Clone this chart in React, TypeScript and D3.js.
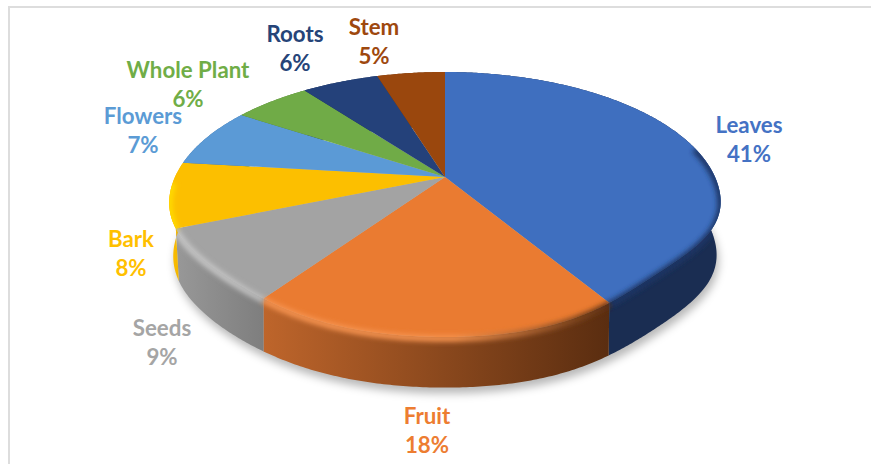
import { line, pie, range, curveLinear } from "d3";

const categories = ["Leaves", "Fruit", "Seeds", "Bark", "Flowers", "Whole Plant", "Roots", "Stem"];
const shares = [41.25, 18.49, 9.1, 8, 7.3, 5.5, 5.5, 4.86];
const topColors = ["#3F6FBF", "#EA7B31", "#A3A3A3", "#FCBF00", "#5B9AD6", "#70AB47", "#24417A", "#9A470D"];
const labelColors = ["#4472C4", "#ED7D31", "#A5A5A5", "#FFC000", "#5B9BD5", "#70AD47", "#264478", "#9E480E"];
const wallStops = [
    ["#1A2D52", "#1A2D52"],
    ["#BE652B", "#5A2D10"],
    ["#989898", "#7E7E7E"],
    ["#FFC000", "#E8AE00"],
    ["#3F6FA0", "#3F6FA0"],
    ["#4F7A32", "#4F7A32"],
    ["#1A2F58", "#1A2F58"],
    ["#6E330A", "#6E330A"],
];
const bevelStops = [
    ["#1F3665", "#1F3665"],
    ["#F5934F", "#5F3112"],
    ["#C4C4C4", "#BDBDBD"],
    ["#FFDC00", "#FFD400"],
    ["#5B9AD6", "#5B9AD6"],
    ["#70AB47", "#70AB47"],
    ["#24417A", "#24417A"],
    ["#9A470D", "#9A470D"],
];
// label centres, name line then percent line
const labelX = [749, 427, 162, 131, 143, 188, 295, 374];
const labelY = [125, 416, 328, 239, 116, 70, 34, 27];

const width = 871;
const height = 464;
const apexX = 445;
const apexY = 177;
const scaleU = 270;
const scaleV = 126.8;
const tilt = 0.2075; // perspective of the disc
const depth = 53;
const shrink = 0.015;

// the front diagonals of the real rim sit a bit inside a true ellipse, more so on the right
function pull(angle: number, level: number) {
    const t = angle % (Math.PI * 2);
    if (t < Math.PI / 2 || t > Math.PI * 1.5) return 1;
    const amount = t < Math.PI ? 0.055 - 0.015 * level : 0.03 - 0.015 * level;
    return 1 - amount * Math.sin(2 * (t - Math.PI)) ** 4;
}

// disc point to screen: angle clockwise from the top, radius 0..1, level 0 top rim, 1 bottom rim
function project(angle: number, radius = 1, level = 0): [number, number] {
    const r = radius * pull(angle, level);
    const u = r * Math.sin(angle);
    const v = r * Math.cos(angle);
    const w = 1 + tilt * v;
    const s = 1 - shrink * level;
    return [apexX + (scaleU * s * u) / w, apexY - (scaleV * s * v) / w + depth * level];
}

const path = line().curve(curveLinear);

function arcPoints(a0: number, a1: number, radius = 1, level = 0) {
    const n = Math.max(2, Math.ceil((a1 - a0) / 0.01));
    return range(n + 1).map((i) => project(a0 + ((a1 - a0) * i) / n, radius, level));
}

const slices = pie<number>().sort(null)(shares);
const bevelFrom = (76 * Math.PI) / 180;
const bevelTo = (268 * Math.PI) / 180;
const discOutline = path(arcPoints(0, Math.PI * 2)) + "Z";
const bodyOutline =
    path([...arcPoints(Math.PI * 0.4, Math.PI * 1.6), ...arcPoints(Math.PI * 0.4, Math.PI * 1.6, 1, 1).reverse()]) + "Z";
const shadowOutline = path(arcPoints(0, Math.PI * 2, 1, 1)) + "Z";

function xExtent(a0: number, a1: number) {
    const xs = [...arcPoints(a0, a1), ...arcPoints(a0, a1, 1, 1)].map((p) => p[0]);
    return [Math.min(...xs), Math.max(...xs)];
}

export default function App() {
    const font = "Lato, sans-serif";
    return (
        <svg
            width={width}
            height={height}
            viewBox={`0 0 ${width} ${height}`}
            style={{ position: "absolute", left: 0, top: 0, background: "#fff" }}
        >
            <defs>
                <filter id="shadow" x="-10%" y="-10%" width="120%" height="130%">
                    <feGaussianBlur stdDeviation="4" />
                </filter>
                <filter id="bevel" filterUnits="userSpaceOnUse" x="0" y="0" width={width} height={height}>
                    <feGaussianBlur stdDeviation="2.4" />
                </filter>
                <clipPath id="body">
                    <path d={discOutline} />
                    <path d={bodyOutline} />
                </clipPath>
                {slices.map((s, i) => {
                    const [x0, x1] = xExtent(s.startAngle, s.endAngle);
                    return (
                        <g key={i}>
                            <linearGradient id={`wall${i}`} gradientUnits="userSpaceOnUse" x1={x0} x2={x1} y1={0} y2={0}>
                                <stop offset="0" stopColor={wallStops[i][0]} />
                                <stop offset="1" stopColor={wallStops[i][1]} />
                            </linearGradient>
                            <linearGradient id={`bevel${i}`} gradientUnits="userSpaceOnUse" x1={x0} x2={x1} y1={0} y2={0}>
                                <stop offset="0" stopColor={bevelStops[i][0]} />
                                <stop offset="0.55" stopColor={bevelStops[i][0]} />
                                <stop offset="1" stopColor={bevelStops[i][1]} />
                            </linearGradient>
                        </g>
                    );
                })}
            </defs>

            <path d="M871 7H9V464" fill="none" stroke="#DDDDDD" strokeWidth={2} />

            <path d={shadowOutline} transform="translate(2 6)" fill="#000" fillOpacity={0.28} filter="url(#shadow)" />

            {/* walls */}
            {slices.map((s, i) => (
                <path
                    key={categories[i]}
                    d={
                        path([
                            ...arcPoints(s.startAngle, s.endAngle),
                            ...arcPoints(s.startAngle, s.endAngle, 1, 1).reverse(),
                        ]) + "Z"
                    }
                    fill={`url(#wall${i})`}
                />
            ))}

            {/* top face */}
            {slices.map((s, i) => (
                <path
                    key={categories[i]}
                    d={path([[apexX, apexY], ...arcPoints(s.startAngle, s.endAngle)]) + "Z"}
                    fill={topColors[i]}
                />
            ))}

            {/* soft edge between top face and wall */}
            <g clipPath="url(#body)">
                {slices.map((s, i) => {
                    const a0 = Math.max(s.startAngle, bevelFrom);
                    const a1 = Math.min(s.endAngle, bevelTo);
                    if (a1 <= a0) return null;
                    return (
                        <path
                            key={categories[i]}
                            d={path(arcPoints(a0, a1, 1, 0.03)) ?? ""}
                            fill="none"
                            stroke={`url(#bevel${i})`}
                            strokeWidth={6.5}
                            filter="url(#bevel)"
                        />
                    );
                })}
            </g>

            {categories.map((name, i) => (
                <g
                    key={name}
                    fontFamily={font}
                    fontWeight={700}
                    fontSize={22.3}
                    textAnchor="middle"
                    fill={labelColors[i]}
                >
                    <text x={labelX[i]} y={labelY[i]} dy="0.35em">
                        {name}
                    </text>
                    <text x={labelX[i]} y={labelY[i] + 29} dy="0.35em">
                        {Math.round(shares[i])}%
                    </text>
                </g>
            ))}
        </svg>
    );
}
